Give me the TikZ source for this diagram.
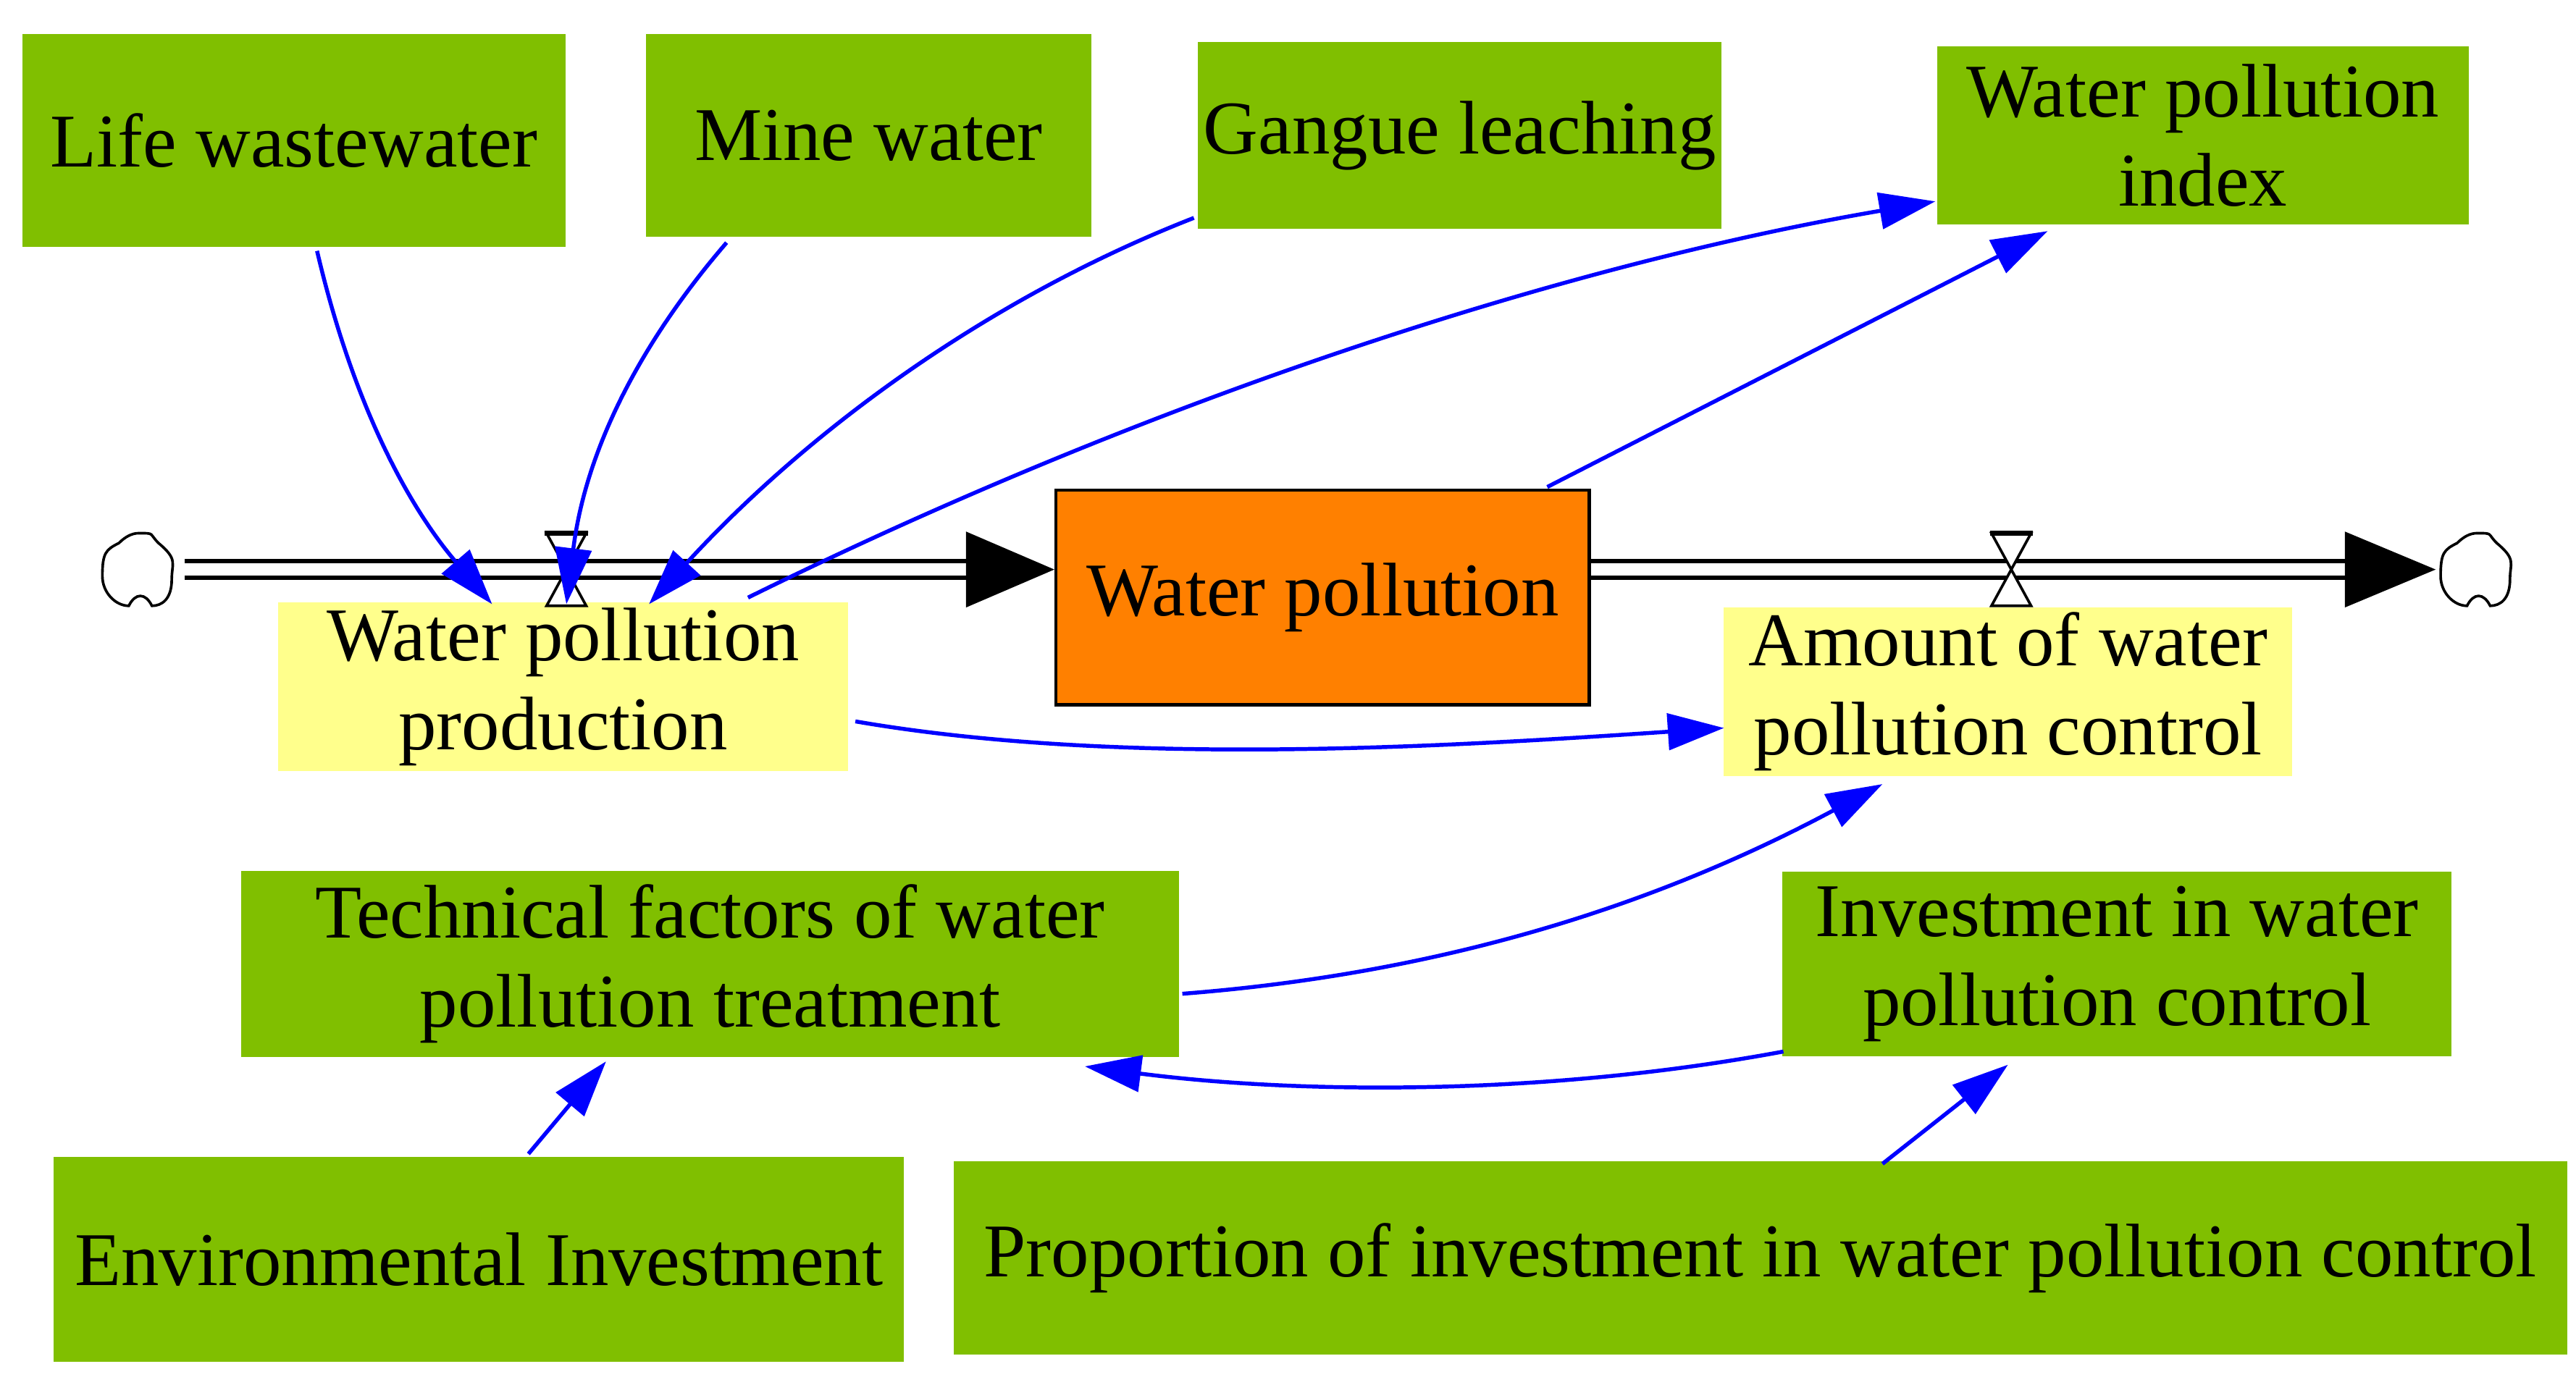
\documentclass[tikz,border=0pt]{standalone}
\usepackage{fontspec}
\setmainfont{Liberation Serif}
\usetikzlibrary{arrows.meta}
\definecolor{gr}{RGB}{128,191,0}
\definecolor{yl}{RGB}{255,255,140}
\definecolor{org}{RGB}{255,128,0}
\definecolor{bl}{RGB}{0,0,255}
\begin{document}
\begin{tikzpicture}[x=1pt,y=-1pt,
  box/.style={draw=none,align=center,font=\fontsize{46}{54}\selectfont,inner sep=0pt},
  gbox/.style={box,fill=gr},
  ybox/.style={box,fill=yl},
  link/.style={draw=bl,line width=2.4pt,-{Triangle[length=34pt,width=22pt,fill=bl]}},
  cloud/.style={draw,line width=1.6pt,fill=white}]
\useasboundingbox (0,0) rectangle (1560,834);
\node[gbox,minimum width=329pt,minimum height=129pt] (life) at (178,85) {Life wastewater};
\node[gbox,minimum width=270pt,minimum height=123pt] (mine) at (526,82) {Mine water};
\node[gbox,minimum width=317pt,minimum height=113pt] (gang) at (884,82) {Gangue leaching};
\node[gbox,minimum width=322pt,minimum height=108pt] (index) at (1334,82) {Water pollution\\index};
\node[box,fill=org,draw=black,line width=2pt,minimum width=323pt,minimum height=130pt] (stock) at (801,362) {Water pollution};
\node[ybox,minimum width=345pt,minimum height=102pt] (prod) at (341,416) {Water pollution\\production};
\node[ybox,minimum width=344pt,minimum height=102pt] (amt) at (1216,419) {Amount of water\\pollution control};
\node[gbox,minimum width=568pt,minimum height=113pt] (tech) at (430,584) {Technical factors of water\\pollution treatment};
\node[gbox,minimum width=405pt,minimum height=112pt] (inv) at (1282,584) {Investment in water\\pollution control};
\node[gbox,minimum width=515pt,minimum height=124pt] (env) at (290,763) {Environmental Investment};
\node[gbox,minimum width=977pt,minimum height=117pt] (prop) at (1066,762) {Proportion of investment in water pollution control};
% flows
\coordinate (c1) at (84,345); \coordinate (v1) at (343,345);
\coordinate (c2) at (1500,345); \coordinate (v2) at (1218,345);
\draw[line width=2.5pt] (112,340) -- (590,340) (112,350) -- (590,350);
\fill (585,322) -- (stock.west |- 0,345) -- (585,368) -- cycle;
\draw[line width=2.5pt] (stock.east |- 0,340) -- (1425,340) (stock.east |- 0,350) -- (1425,350);
\fill (1420,322) -- (1475,345) -- (1420,368) -- cycle;
\foreach \v in {v1,v2}{
  \draw[line width=1.6pt,fill=white] ([shift={(-12,-22)}]\v) -- ([shift={(12,-22)}]\v) -- ([shift={(-12,22)}]\v) -- ([shift={(12,22)}]\v) -- cycle;
  \draw[line width=3pt] ([shift={(-13,-22)}]\v) -- ([shift={(13,-22)}]\v);}
\foreach \c in {c1,c2}{
  \draw[cloud] ([shift={(0,-22)}]\c) .. controls +(10,0) and +(-6,-6) .. ([shift={(12,-16)}]\c)
   .. controls +(12,10) and +(0,-10) .. ([shift={(20,6)}]\c)
   .. controls +(0,12) and +(6,0) .. ([shift={(8,22)}]\c)
   .. controls +(-4,-8) and +(4,-8) .. ([shift={(-6,22)}]\c)
   .. controls +(-8,0) and +(0,10) .. ([shift={(-22,4)}]\c)
   .. controls +(0,-14) and +(-8,4) .. ([shift={(-12,-16)}]\c)
   .. controls +(4,-4) and +(-4,0) .. ([shift={(0,-22)}]\c);}
% links
\coordinate (a1) at (192,152); \coordinate (b1) at (298,366);
\draw[link] (a1) .. controls (215,250) and (250,310) .. (b1);
\coordinate (a2) at (440,147); \coordinate (b2) at (343,366);
\draw[link] (a2) .. controls (390,205) and (355,270) .. (b2);
\coordinate (a3) at (723,132); \coordinate (b3) at (393,366);
\draw[link] (a3) .. controls (600,180) and (490,260) .. (b3);
\coordinate (a4) at (453,362); \coordinate (b4) at (1172,122);
\draw[link] (a4) .. controls (700,240) and (950,160) .. (b4);
\coordinate (a5) at (937,295); \coordinate (b5) at (1240,140);
\draw[link] (a5) -- (b5);
\coordinate (a6) at (518,437); \coordinate (b6) at (1044,441);
\draw[link] (a6) .. controls (680,465) and (880,452) .. (b6);
\coordinate (a7) at (716,602); \coordinate (b7) at (1140,475);
\draw[link] (a7) .. controls (870,590) and (1000,550) .. (b7);
\coordinate (a8) at (1080,637); \coordinate (b8) at (657,646);
\draw[link] (a8) .. controls (930,665) and (780,662) .. (b8);
\coordinate (a9) at (320,699); \coordinate (b9) at (367,643);
\draw[link] (a9) -- (b9);
\coordinate (a10) at (1140,705); \coordinate (b10) at (1216,645);
\draw[link] (a10) -- (b10);
\end{tikzpicture}
\end{document}
